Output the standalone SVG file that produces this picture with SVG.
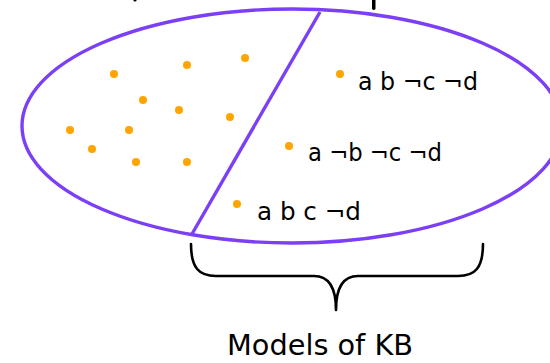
<svg xmlns="http://www.w3.org/2000/svg" width="550" height="363" viewBox="0 0 550 363">
<style>
.outline{fill:none;stroke:#7b3ff5;stroke-width:3.4}
.dot{fill:#ffa500}
.lbl{font-family:"DejaVu Sans","Noto Sans",sans-serif;font-size:25px;fill:#000}
.brace{fill:none;stroke:#000;stroke-width:2.6;stroke-linecap:round;stroke-linejoin:round}
</style>
<rect width="550" height="363" fill="#fff"/>
<g id="title-fragment">
<rect x="372" y="-2" width="3.5" height="12" rx="1.7" fill="#000"/>
<circle cx="135" cy="0" r="1.6" fill="#000"/>
</g>
<g id="world-set">
<ellipse class="outline" cx="292" cy="126" rx="270" ry="117"/>
</g>
<g id="connectors">
<line class="outline" x1="320" y1="12" x2="192" y2="234"/>
<path class="brace" d="M191,244 C191,268 199,276 216,276 L314,276 C328,276 336,286 336,310 C336,286 344,276 358,276 L458,276 C475,276 483,268 483,244"/>
</g>
<g id="other-models">
<circle class="dot" cx="114" cy="74" r="4"/>
<circle class="dot" cx="187" cy="65" r="4"/>
<circle class="dot" cx="245" cy="58" r="4"/>
<circle class="dot" cx="143" cy="100" r="4"/>
<circle class="dot" cx="179" cy="110" r="4"/>
<circle class="dot" cx="230" cy="117" r="4"/>
<circle class="dot" cx="70" cy="130" r="4"/>
<circle class="dot" cx="129" cy="130" r="4"/>
<circle class="dot" cx="92" cy="149" r="4"/>
<circle class="dot" cx="136" cy="162" r="4"/>
<circle class="dot" cx="187" cy="162" r="4"/>
</g>
<g id="model-1">
<circle class="dot" cx="340" cy="74" r="4"/>
<text class="lbl" x="358" y="90" textLength="120" lengthAdjust="spacingAndGlyphs">a b ¬c ¬d</text>
</g>
<g id="model-2">
<circle class="dot" cx="289" cy="146" r="4"/>
<text class="lbl" x="308" y="161" textLength="134" lengthAdjust="spacingAndGlyphs">a ¬b ¬c ¬d</text>
</g>
<g id="model-3">
<circle class="dot" cx="237" cy="204" r="4"/>
<text class="lbl" x="257" y="220" textLength="104" lengthAdjust="spacingAndGlyphs">a b c ¬d</text>
</g>
<g id="models-of-kb">
<text class="lbl" x="227" y="355" style="font-size:28px" textLength="186" lengthAdjust="spacingAndGlyphs">Models of KB</text>
</g>
</svg>
